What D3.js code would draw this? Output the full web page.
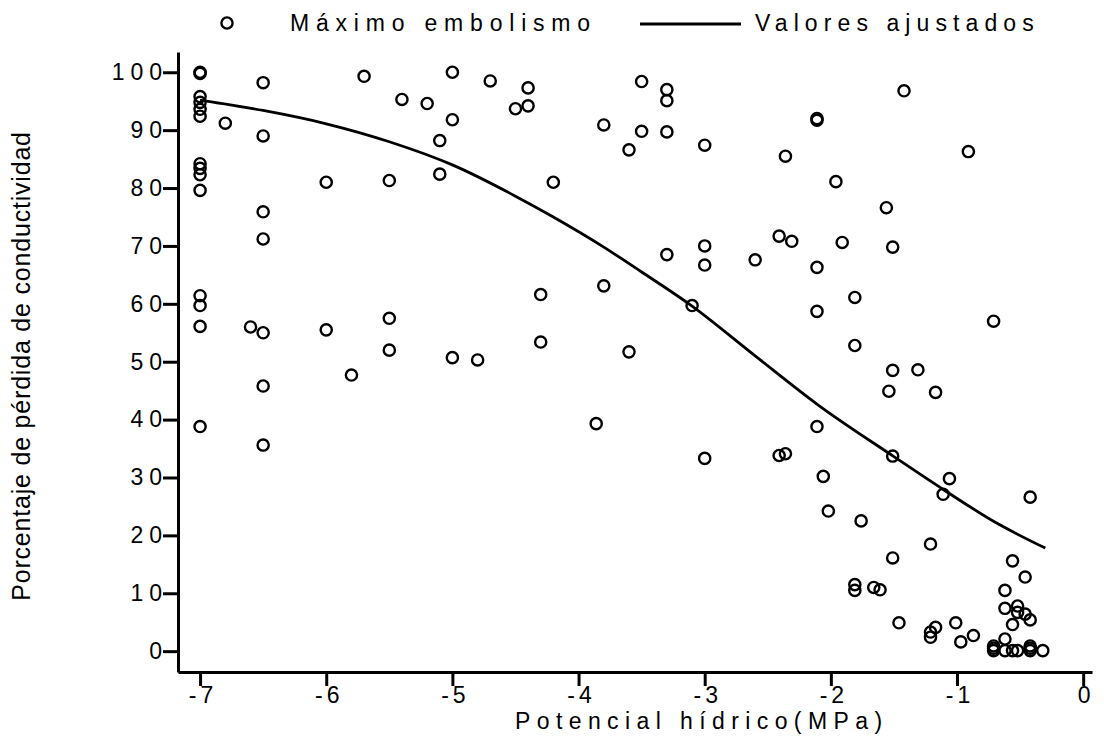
<!DOCTYPE html>
<html>
<head>
<meta charset="utf-8">
<script src="https://cdn.jsdelivr.net/npm/d3@7"></script>
<style>
  html, body { margin: 0; padding: 0; background: #fff; }
  svg { display: block; }
  text { font-family: "Liberation Sans", Arial, sans-serif; fill: #000; }
</style>
</head>
<body>
<svg id="chart" width="1104" height="742"></svg>
<script>
// Observed maximum embolism: water potential (MPa) and % loss of conductivity
const potencial = [
  -7.0, -7.0, -7.0, -7.0, -7.0, -7.0, -7.0, -7.0, -7.0, -7.0, -7.0, -7.0, -7.0, -7.0,
  -6.8,
  -6.5, -6.5, -6.5, -6.5, -6.5, -6.5, -6.5,
  -6.6,
  -6.0, -6.0,
  -5.8,
  -5.7,
  -5.5, -5.5, -5.5,
  -5.4,
  -5.2,
  -5.1, -5.1,
  -5.0, -5.0, -5.0,
  -4.8,
  -4.7,
  -4.5,
  -4.4, -4.4,
  -4.2,
  -4.3, -4.3,
  -3.8, -3.8,
  -3.86,
  -3.6, -3.6,
  -3.5, -3.5,
  -3.3, -3.3, -3.3, -3.3,
  -3.0, -3.0, -3.0, -3.0,
  -3.1,
  -2.6,
  -2.41, -2.41,
  -2.36, -2.36,
  -2.31,
  -2.11, -2.11, -2.11, -2.11, -2.11,
  -2.06,
  -2.02,
  -1.96,
  -1.91,
  -1.81, -1.81, -1.81, -1.81,
  -1.76,
  -1.66,
  -1.61,
  -1.56, -1.54,
  -1.51, -1.51, -1.51, -1.51,
  -1.46,
  -1.42,
  -1.31,
  -1.17,
  -1.21, -1.21, -1.21,
  -1.17,
  -1.06,
  -1.11,
  -1.01,
  -0.97,
  -0.87,
  -0.91,
  -0.71,
  -0.71, -0.71, -0.71,
  -0.62, -0.62, -0.62, -0.62,
  -0.56, -0.56, -0.56,
  -0.52, -0.52, -0.52,
  -0.46, -0.46,
  -0.42, -0.42, -0.42, -0.42, -0.42,
  -0.32
];
const perdida = [
  100, 99.8, 95.8, 94.8, 93.6, 92.4, 84.2, 83.4, 82.3, 79.6, 61.4, 59.7, 56.1, 38.8,
  91.2,
  98.2, 89.0, 75.9, 71.2, 55.0, 45.8, 35.6,
  56.0,
  81.0, 55.5,
  47.7,
  99.3,
  81.3, 57.5, 52.0,
  95.3,
  94.6,
  88.2, 82.4,
  100, 91.8, 50.7,
  50.3,
  98.5,
  93.7,
  97.3, 94.2,
  81.0,
  61.6, 53.4,
  90.9, 63.1,
  39.3,
  86.6, 51.7,
  98.4, 89.8,
  97.0, 95.1, 89.7, 68.5,
  87.4, 70.0, 66.7, 33.3,
  59.7,
  67.6,
  71.7, 33.8,
  85.5, 34.1,
  70.8,
  92.0, 91.7, 66.3, 58.7, 38.8,
  30.2,
  24.2,
  81.1,
  70.6,
  61.1, 52.8, 11.5, 10.5,
  22.5,
  11.0,
  10.6,
  76.6, 44.9,
  69.8, 48.5, 33.7, 16.1,
  4.9,
  96.8,
  48.6,
  44.7,
  18.5, 3.3, 2.4,
  4.1,
  29.8,
  27.1,
  4.9,
  1.6,
  2.7,
  86.3,
  57.0,
  0.9, 0.5, 0.1,
  10.5, 7.4, 2.1, 0.1,
  15.6, 4.6, 0.1,
  7.8, 6.7, 0.1,
  12.8, 6.4,
  26.6, 5.4, 0.9, 0.5, 0.1,
  0.1
];

// Fitted curve
const ajusteX = [-7.0, -6.5, -6.0, -5.5, -5.0, -4.5, -4.2, -3.8, -3.5, -3.1, -2.6, -2.1, -1.5, -1.1, -0.7, -0.3];
const ajusteY = [95.2, 93.4, 91.1, 88.0, 84.0, 78.6, 75.0, 69.8, 65.5, 59.6, 51.0, 42.5, 33.6, 27.8, 22.3, 17.8];

const xTicks = [-7, -6, -5, -4, -3, -2, -1, 0];
const yTicks = [0, 10, 20, 30, 40, 50, 60, 70, 80, 90, 100];

const legendLabels = ["Máximo embolismo", "Valores ajustados"];
const xTitle = "Potencial hídrico(MPa)";
const yTitle = "Porcentaje de pérdida de conductividad";

const svg = d3.select("#chart");

const x = d3.scaleLinear().domain([-7.175, 0.07]).range([178, 1092]);
const y = d3.scaleLinear().domain([-3.6, 103.5]).range([672, 52]);

const fontSize = 23;
const markR = 5.6;
const markW = 2.4;

// Axes
const xAxis = svg.append("g")
  .attr("transform", `translate(0,${y.range()[0]})`)
  .call(d3.axisBottom(x).tickValues(xTicks).tickSize(14).tickSizeOuter(0).tickPadding(1)
    .tickFormat(d => d3.format("d")(d).replace("−", "-")));
const yAxis = svg.append("g")
  .attr("transform", `translate(${x.range()[0]},0)`)
  .call(d3.axisLeft(y).tickValues(yTicks).tickSize(15).tickSizeOuter(0).tickPadding(0)
    .tickFormat(d3.format("d")));

[xAxis, yAxis].forEach(g => {
  g.select(".domain").attr("stroke", "#000").attr("stroke-width", 3);
  g.selectAll(".tick line").attr("stroke", "#000").attr("stroke-width", 3);
  g.selectAll(".tick text")
    .attr("fill", "#000")
    .style("font-family", '"Liberation Sans", Arial, sans-serif')
    .style("font-size", fontSize + "px");
});
xAxis.selectAll(".tick text").attr("dx", "2.5px").style("letter-spacing", "4px");
yAxis.selectAll(".tick text").attr("dx", "5px").style("letter-spacing", "6px");

// Fitted line
const line = d3.line().curve(d3.curveMonotoneX).x(d => x(d[0])).y(d => y(d[1]));
svg.append("path")
  .datum(ajusteX.map((v, i) => [v, ajusteY[i]]))
  .attr("d", line)
  .attr("fill", "none")
  .attr("stroke", "#000")
  .attr("stroke-width", 2.8)
  .attr("stroke-linejoin", "round");

// Observed points
svg.append("g")
  .selectAll("circle")
  .data(potencial.map((v, i) => [v, perdida[i]]))
  .join("circle")
  .attr("cx", d => x(d[0]))
  .attr("cy", d => y(d[1]))
  .attr("r", markR)
  .attr("fill", "none")
  .attr("stroke", "#000")
  .attr("stroke-width", markW);

// Axis titles
svg.append("text")
  .attr("x", 515).attr("y", 729)
  .style("font-size", fontSize + "px")
  .style("letter-spacing", "6.4px")
  .text(xTitle);

svg.append("text")
  .attr("transform", "translate(30,366) rotate(-90)")
  .attr("text-anchor", "middle")
  .style("font-size", "25px")
  .style("letter-spacing", "0.8px")
  .text(yTitle);

// Legend
const legend = svg.append("g");
legend.append("circle")
  .attr("cx", 227).attr("cy", 23).attr("r", markR)
  .attr("fill", "none").attr("stroke", "#000").attr("stroke-width", markW);
legend.append("text")
  .attr("x", 290).attr("y", 31)
  .style("font-size", fontSize + "px")
  .style("letter-spacing", "6.8px")
  .text(legendLabels[0]);
legend.append("line")
  .attr("x1", 640).attr("x2", 741).attr("y1", 24).attr("y2", 24)
  .attr("stroke", "#000").attr("stroke-width", 2.8);
legend.append("text")
  .attr("x", 755).attr("y", 31)
  .style("font-size", fontSize + "px")
  .style("letter-spacing", "6.1px")
  .text(legendLabels[1]);
</script>
</body>
</html>
